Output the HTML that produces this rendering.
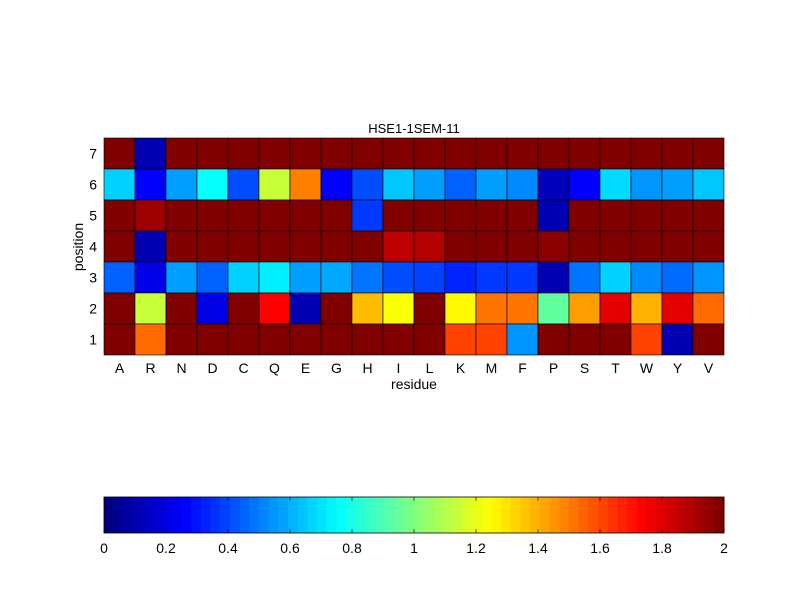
<!DOCTYPE html>
<html><head><meta charset="utf-8"><style>
html,body{margin:0;padding:0;background:#fff;}
svg{display:block;font-family:"Liberation Sans",Arial,sans-serif;}
</style></head><body>
<svg id="s" width="800" height="600" xmlns="http://www.w3.org/2000/svg">
<rect width="800" height="600" fill="#fff"/>
<text x="414" y="133" font-size="13" text-anchor="middle">HSE1-1SEM-11</text>
<text x="414" y="389" font-size="14" text-anchor="middle">residue</text>
<text transform="translate(83,247) rotate(-90)" font-size="14" text-anchor="middle">position</text>
</svg>
<script>
var s=document.getElementById('s');var NS='http://www.w3.org/2000/svg';
function jet(v){function c(x){return Math.max(0,Math.min(1,x));}
var r=c(1.5-Math.abs(4*v-3)),g=c(1.5-Math.abs(4*v-2)),b=c(1.5-Math.abs(4*v-1));
return 'rgb('+Math.round(r*255)+','+Math.round(g*255)+','+Math.round(b*255)+')';}
function el(n,a,t){var e=document.createElementNS(NS,n);for(var k in a)e.setAttribute(k,a[k]);if(t!==undefined)e.textContent=t;s.appendChild(e);return e;}
var res=['A','R','N','D','C','Q','E','G','H','I','L','K','M','F','P','S','T','W','Y','V'];
var D={
7:[1,.05,1,1,1,1,1,1,1,1,1,1,1,1,1,1,1,1,1,1],
6:[.33,.12,.28,.38,.2,.57,.75,.12,.2,.32,.28,.22,.28,.26,.06,.12,.34,.27,.28,.32],
5:[1,.97,1,1,1,1,1,1,.18,1,1,1,1,1,.05,1,1,1,1,1],
4:[1,.05,1,1,1,1,1,1,1,.94,.95,1,1,1,.99,1,1,1,1,1],
3:[.22,.1,.28,.22,.33,.36,.28,.29,.24,.2,.19,.16,.18,.18,.05,.24,.33,.26,.23,.27],
2:[1,.57,1,.1,1,.875,.05,1,.69,.62,1,.63,.76,.76,.47,.72,.9,.7,.9,.77],
1:[1,.77,1,1,1,1,1,1,1,1,1,.81,.81,.27,1,1,1,.81,.05,1]};
var x0=104,y0=138,w=31,h=217/7;
for(var r=7;r>=1;r--){var y=y0+(7-r)*h;
 for(var i=0;i<20;i++){el('rect',{x:x0+i*w,y:y,width:w,height:h,fill:jet(D[r][i]),stroke:'#000','stroke-width':0.6});}
 el('text',{x:97,y:y+h/2+5,'font-size':14,'text-anchor':'end'},String(r));
}
for(var i=0;i<20;i++)el('text',{x:x0+i*w+w/2,y:373,'font-size':14,'text-anchor':'middle'},res[i]);
var cx=104,cw=620,cy=497,ch=36;
for(var k=0;k<64;k++){el('rect',{x:cx+k*cw/64,y:cy,width:cw/64+0.5,height:ch,fill:jet(k/63)});}
el('rect',{x:cx,y:cy,width:cw,height:ch,fill:'none',stroke:'#000','stroke-width':0.8});
var lb=['0','0.2','0.4','0.6','0.8','1','1.2','1.4','1.6','1.8','2'];
for(var k=0;k<=10;k++){var x=cx+k*cw/10;
 el('line',{x1:x,y1:cy,x2:x,y2:cy+4,stroke:'#000','stroke-width':0.6});
 el('line',{x1:x,y1:cy+ch,x2:x,y2:cy+ch-4,stroke:'#000','stroke-width':0.6});
 el('text',{x:x,y:553,'font-size':14,'text-anchor':'middle'},lb[k]);}
</script>
</body></html>
